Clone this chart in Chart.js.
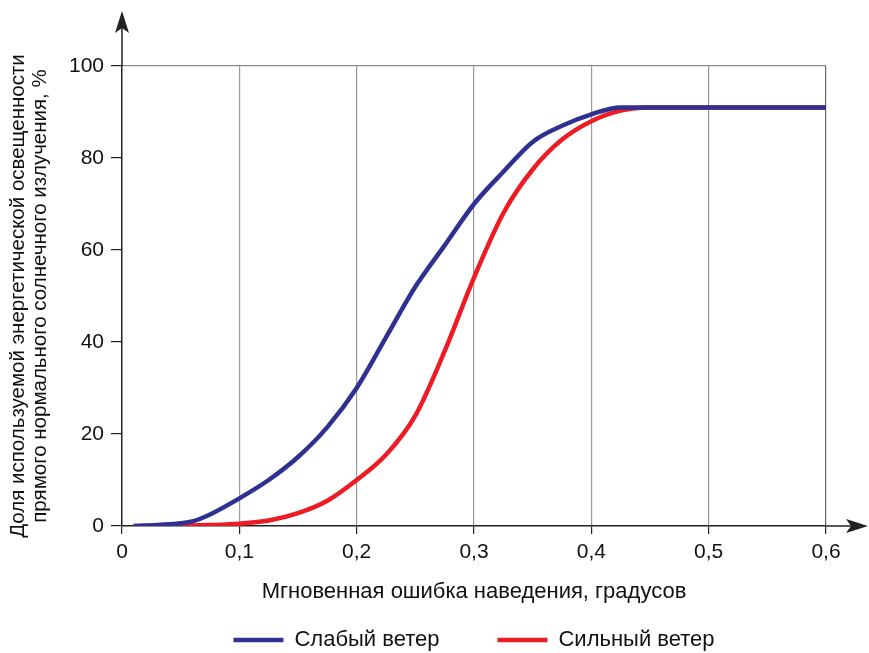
<!DOCTYPE html>
<html>
<head>
<meta charset="utf-8">
<script src="https://cdn.jsdelivr.net/npm/chart.js@4"></script>
<style>
  html, body { margin: 0; padding: 0; background: #fff; }
  #wrap { width: 869px; height: 653px; }
</style>
</head>
<body>
<div id="wrap"><canvas id="chart" width="869" height="653"></canvas></div>
<script>
// error angle, degrees
const errorDeg = [0.01, 0.03, 0.05, 0.06, 0.075, 0.1, 0.125, 0.15, 0.175, 0.2, 0.225, 0.25,
                  0.275, 0.3, 0.325, 0.35, 0.375, 0.4, 0.425, 0.45, 0.5, 0.55, 0.6];
// fraction of used DNI, %
const weakWind = [0, 0.2, 0.6, 1, 2.5, 6, 10, 15, 21.5, 30, 41, 52,
                  61, 70, 77, 83.5, 87, 89.5, 91, 91, 91, 91, 91];
const strongWind = [0, 0, 0, 0.1, 0.2, 0.5, 1.2, 2.8, 5.5, 10, 15.5, 24,
                    38, 54, 68, 77.5, 84, 88, 90.3, 91, 91, 91, 91];
const seriesNames = ['Слабый ветер', 'Сильный ветер'];
const xTitle = 'Мгновенная ошибка наведения, градусов';
const yTitle = ['Доля используемой энергетической освещенности', 'прямого нормального солнечного излучения, %'];

const FONT = '"Liberation Sans", Arial, sans-serif';
const BLUE = '#2e3192';
const RED = '#ed1c24';
const TEXT = '#111';

function toPoints(ys) {
    return errorDeg.map((x, i) => ({ x: x, y: ys[i] }));
}

function series(label, values, color) {
    return {
        label: label,
        data: toPoints(values),
        borderColor: color,
        backgroundColor: color,
        borderWidth: 4.5,
        pointRadius: 0,
        pointBorderWidth: 4.5,
        pointBorderColor: color,
        pointBackgroundColor: color,
        cubicInterpolationMode: 'monotone',
        fill: false
    };
}

// draws the arrow-ended axes past the plot box
const axisArrows = {
    id: 'axisArrows',
    beforeDatasetsDraw(chart) {
        const { ctx, chartArea } = chart;
        const x0 = chartArea.left, y0 = chartArea.bottom;
        ctx.save();
        ctx.strokeStyle = '#222';
        ctx.fillStyle = '#222';
        ctx.lineWidth = 1.5;
        ctx.beginPath();
        ctx.moveTo(x0, chartArea.top);
        ctx.lineTo(x0, 28);
        ctx.moveTo(chartArea.right, y0);
        ctx.lineTo(852, y0);
        ctx.stroke();
        // y arrow head
        ctx.beginPath();
        ctx.moveTo(x0, 11);
        ctx.lineTo(x0 + 7, 33);
        ctx.lineTo(x0, 28);
        ctx.lineTo(x0 - 7, 33);
        ctx.closePath();
        ctx.fill();
        // x arrow head
        ctx.beginPath();
        ctx.moveTo(868, y0);
        ctx.lineTo(846, y0 - 7);
        ctx.lineTo(851, y0);
        ctx.lineTo(846, y0 + 7);
        ctx.closePath();
        ctx.fill();
        ctx.restore();
    }
};

const ctx = document.getElementById('chart').getContext('2d');
new Chart(ctx, {
    type: 'line',
    data: {
        datasets: [
            series(seriesNames[0], weakWind, BLUE),
            series(seriesNames[1], strongWind, RED)
        ]
    },
    options: {
        responsive: false,
        animation: false,
        layout: { padding: { top: 66, right: 43, left: 0, bottom: 0 } },
        plugins: {
            tooltip: { enabled: false },
            legend: {
                position: 'bottom',
                fullSize: false,
                maxHeight: 82,
                labels: {
                    usePointStyle: true,
                    pointStyle: 'line',
                    pointStyleWidth: 50,
                    padding: 58,
                    color: TEXT,
                    font: { family: FONT, size: 22 }
                }
            }
        },
        scales: {
            x: {
                type: 'linear',
                min: 0,
                max: 0.6,
                ticks: {
                    stepSize: 0.1,
                    padding: 6,
                    color: TEXT,
                    font: { family: FONT, size: 21 },
                    callback: (v) => v === 0 ? '0' : v.toFixed(1).replace('.', ',')
                },
                grid: {
                    color: (c) => {
                        const v = c.tick ? c.tick.value : 0;
                        if (v < 0.05) return 'rgba(0,0,0,0)';
                        if (v > 0.55) return '#666';
                        return '#9a9a9a';
                    },
                    lineWidth: 1.2,
                    tickColor: '#222',
                    tickLength: 8
                },
                border: { color: '#222', width: 1.5 },
                title: {
                    display: true,
                    text: xTitle,
                    color: TEXT,
                    font: { family: FONT, size: 22 },
                    padding: { top: 0, bottom: -34 }
                },
                afterFit: (scale) => { scale.height = 45; }
            },
            y: {
                min: 0,
                max: 100,
                ticks: {
                    stepSize: 20,
                    padding: 7,
                    color: TEXT,
                    font: { family: FONT, size: 21 }
                },
                grid: {
                    color: (c) => (c.tick && c.tick.value === 100) ? '#8a8a8a' : 'rgba(0,0,0,0)',
                    lineWidth: 1.2,
                    tickColor: '#222',
                    tickLength: 11
                },
                border: { color: '#222', width: 1.5 },
                title: {
                    display: true,
                    text: yTitle,
                    color: TEXT,
                    font: { family: FONT, size: 20.5, lineHeight: 1.08 },
                    padding: { top: 7, bottom: 0 }
                },
                afterFit: (scale) => { scale.width = 122; }
            }
        }
    },
    plugins: [axisArrows]
});
</script>
</body>
</html>
